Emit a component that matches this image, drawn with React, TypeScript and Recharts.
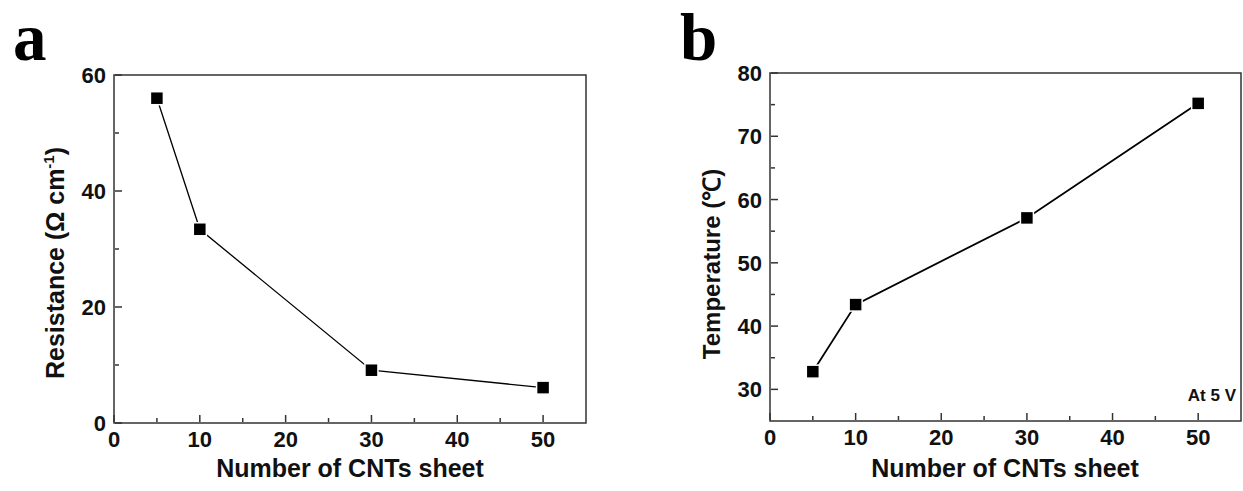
import { LineChart, Line, XAxis, YAxis, ReferenceArea } from "recharts";

// panel a: resistance vs number of sheets
const sheetsA = [5, 10, 30, 50];
const resistance = [56.0, 33.4, 9.1, 6.1];

// panel b: temperature at 5 V
const sheetsB = [5, 10, 30, 50];
const temperature = [32.8, 43.4, 57.1, 75.2];

const xTicks = [0, 5, 10, 15, 20, 25, 30, 35, 40, 45, 50];
const yTicksA = [0, 10, 20, 30, 40, 50, 60];
const yTicksB = [30, 35, 40, 45, 50, 55, 60, 65, 70, 75, 80];

const AXIS = "#333";
const FONT = "'Liberation Sans', Arial, sans-serif";

const dataA = sheetsA.map((n, i) => ({ n, v: resistance[i] }));
const dataB = sheetsB.map((n, i) => ({ n, v: temperature[i] }));

// axis is 1px thick, so ticks get their coordinate at the plot edge
function makeXTick(majorStep: number) {
  return (props: any) => {
    const { x, payload } = props;
    const y = props.y - 1;
    const v = payload.value;
    const major = v % majorStep === 0;
    return (
      <g>
        <line x1={x} x2={x} y1={y} y2={y - (major ? 7 : 4)} stroke={AXIS} strokeWidth={1.5} />
        {major && (
          <text x={x} y={y + 25} textAnchor="middle" fontFamily={FONT} fontWeight="bold" fontSize={22} fill="#111">
            {v}
          </text>
        )}
      </g>
    );
  };
}

function makeYTick(majorStep: number) {
  return (props: any) => {
    const { y, payload } = props;
    const x = props.x + 1;
    const v = payload.value;
    const major = v % majorStep === 0;
    return (
      <g>
        <line x1={x} x2={x + (major ? 7 : 4)} y1={y} y2={y} stroke={AXIS} strokeWidth={1.5} />
        {major && (
          <text x={x - 9} y={y + 8} textAnchor="end" fontFamily={FONT} fontWeight="bold" fontSize={22} fill="#111">
            {v}
          </text>
        )}
      </g>
    );
  };
}

const square = (p: any) => (
  <rect
    key={"sq" + p.index}
    x={p.cx - 6.5}
    y={p.cy - 6.5}
    width={13}
    height={13}
    fill="#000"
    stroke="#fff"
    strokeWidth={1.5}
  />
);

export default function App() {
  return (
    <div style={{ position: "absolute", left: 0, top: 0, width: 1243, height: 491, background: "#fff" }}>
      <div style={{ position: "absolute", left: 0, top: 0 }}>
        <LineChart width={620} height={491} data={dataA} margin={{ top: 75, left: 113, right: 34, bottom: 67 }}>
          <XAxis
            dataKey="n"
            type="number"
            domain={[0, 55]}
            ticks={xTicks}
            interval={0}
            height={1}
            axisLine={false}
            tickLine={false}
            tickSize={0}
            tickMargin={0}
            tick={makeXTick(10)}
          />
          <YAxis
            type="number"
            domain={[0, 60]}
            ticks={yTicksA}
            interval={0}
            width={1}
            axisLine={false}
            tickLine={false}
            tickSize={0}
            tickMargin={0}
            tick={makeYTick(20)}
          />
          <ReferenceArea x1={0} x2={55} y1={0} y2={60} fill="none" stroke={AXIS} strokeWidth={1.5} />
          <Line
            type="linear"
            dataKey="v"
            stroke="#000"
            strokeWidth={1.3}
            dot={square}
            isAnimationActive={false}
          />
        </LineChart>
      </div>
      <div style={{ position: "absolute", left: 620, top: 0 }}>
        <LineChart width={623} height={491} data={dataB} margin={{ top: 73, left: 149, right: 2, bottom: 69 }}>
          <XAxis
            dataKey="n"
            type="number"
            domain={[0, 55]}
            ticks={xTicks}
            interval={0}
            height={1}
            axisLine={false}
            tickLine={false}
            tickSize={0}
            tickMargin={0}
            tick={makeXTick(10)}
          />
          <YAxis
            type="number"
            domain={[25, 80]}
            ticks={yTicksB}
            interval={0}
            width={1}
            axisLine={false}
            tickLine={false}
            tickSize={0}
            tickMargin={0}
            tick={makeYTick(10)}
          />
          <ReferenceArea x1={0} x2={55} y1={25} y2={80} fill="none" stroke={AXIS} strokeWidth={1.5} />
          <Line
            type="linear"
            dataKey="v"
            stroke="#000"
            strokeWidth={1.8}
            dot={square}
            isAnimationActive={false}
          />
        </LineChart>
      </div>
      <svg
        width={1243}
        height={491}
        style={{ position: "absolute", left: 0, top: 0, pointerEvents: "none" }}
      >
        <text x={13} y={60} fontFamily="'Liberation Serif', 'Times New Roman', serif" fontWeight="bold" fontSize={67} fill="#000">
          a
        </text>
        <text x={680} y={60} fontFamily="'Liberation Serif', 'Times New Roman', serif" fontWeight="bold" fontSize={67} fill="#000">
          b
        </text>
        <text x={350} y={477} textAnchor="middle" fontFamily={FONT} fontWeight="bold" fontSize={25} fill="#111">
          Number of CNTs sheet
        </text>
        <text x={1005} y={477} textAnchor="middle" fontFamily={FONT} fontWeight="bold" fontSize={25} fill="#111">
          Number of CNTs sheet
        </text>
        <text
          transform="translate(64,263) rotate(-90)"
          textAnchor="middle"
          fontFamily={FONT}
          fontWeight="bold"
          fontSize={25}
          fill="#111"
        >
          Resistance (Ω cm
          <tspan dy={-10} fontSize={15}>-1</tspan>
          <tspan dy={10}>)</tspan>
        </text>
        <text
          transform="translate(720,264) rotate(-90)"
          textAnchor="middle"
          fontFamily={FONT}
          fontWeight="bold"
          fontSize={24}
          fill="#111"
        >
          Temperature (℃)
        </text>
        <text x={1236} y={401} textAnchor="end" fontFamily={FONT} fontWeight="bold" fontSize={17} fill="#111">
          At 5 V
        </text>
      </svg>
    </div>
  );
}
